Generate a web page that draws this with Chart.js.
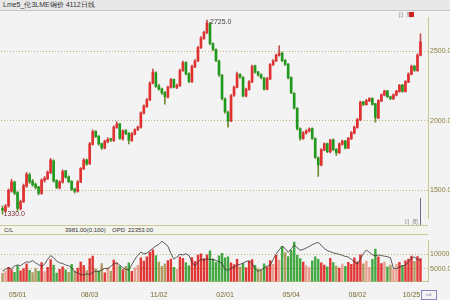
<!DOCTYPE html>
<html lang="zh">
<head>
<meta charset="UTF-8">
<title>Lme5 日线</title>
<script src="https://cdn.jsdelivr.net/npm/chart.js"></script>
<style>
    body { margin: 0; width: 450px; height: 300px; background: #f3f3f3; position: relative; overflow: hidden;
           font-family: "Liberation Sans", Arial, sans-serif; }
    .strip { position: absolute; left: 0; width: 450px; font-size: 7px; color: #333; }
    #title { top: 0; height: 10px; background: #e8e8e8; border-bottom: 1px solid #c4c4c4; line-height: 10px; }
    #title span { margin-left: 3px; }
    #volHead { top: 225px; height: 8px; border-top: 1px solid #c8c890; border-bottom: 1px solid #c8c890;
               width: 428px; background: #f4f4ee; line-height: 8px; font-size: 6px; }
    #volHead span { position: absolute; top: 0; }
    canvas { position: absolute; left: 0; }
    #priceCanvas { top: 11px; }
    #volCanvas { top: 234px; }
    .mark { position: absolute; }
</style>
</head>
<body>
<div id="title" class="strip"><span>Lme5_伦3LME铜价 4112日线</span></div>
<canvas id="priceCanvas" width="450" height="214"></canvas>
<div id="volHead" class="strip">
    <span style="left:4px">C/L</span>
    <span style="left:65px">3981.00(0.100)</span>
    <span style="left:112px">OPD</span>
    <span style="left:128px">22353.00</span>
</div>
<canvas id="volCanvas" width="450" height="66"></canvas>
<div class="mark" style="left:398px;top:11px;font-size:6px;color:#888">日 周</div>
<div class="mark" style="left:409px;top:12px;width:5px;height:5px;background:#d02020"></div>
<div class="mark" style="left:420px;top:198px;width:1px;height:27px;background:#6a6a90"></div>
<div class="mark" style="left:404px;top:218px;font-size:6px;color:#888">日 周</div>
<div class="mark" style="left:421px;top:290px;width:14px;height:8px;border:1px solid #8888c0;font-size:7px;line-height:8px;color:#6666a0;text-align:center">⇨</div>

<script>
const slotCount = 142;
const tickIndex = [5, 29, 52, 74, 96, 118, 136];
const tickText = ['05/01', '08/03', '11/02', '02/01', '05/04', '08/02', '10/25'];

const opens = [
    1372, 1352, 1388, 1495, 1560, 1485, 1368, 1420, 1530, 1612,
    1565, 1545, 1525, 1478, 1572, 1585, 1628, 1712, 1570, 1518,
    1560, 1640, 1598, 1565, 1510, 1492, 1560, 1655, 1720, 1690,
    1830, 1925, 1890, 1836, 1804, 1850, 1870, 1858, 1952, 1978,
    1870, 1932, 1910, 1858, 1905, 1938, 1952, 2055, 2102, 2150,
    2272, 2345, 2250, 2230, 2205, 2170, 2240, 2298, 2240, 2252,
    2360, 2420, 2340, 2280, 2388, 2430, 2525, 2592, 2632, 2700,
    2556, 2512, 2430, 2328, 2158, 2062, 2000, 2182, 2240, 2335,
    2312, 2178, 2226, 2280, 2395, 2352, 2332, 2308, 2226, 2300,
    2402, 2430, 2470, 2488, 2435, 2408, 2312, 2198, 2090, 1945,
    1872, 1912, 1926, 1945, 1872, 1735, 1682, 1790, 1836, 1776,
    1864, 1795, 1770, 1830, 1856, 1804, 1870, 1912, 1952, 2008,
    2136, 2116, 2144, 2162, 2122, 2020, 2142, 2184, 2216, 2172,
    2158, 2184, 2210, 2258, 2210, 2278, 2334, 2394, 2360, 2470
];
const highs = [
    1390, 1400, 1512, 1580, 1568, 1492, 1430, 1545, 1630, 1625,
    1580, 1552, 1530, 1584, 1600, 1640, 1730, 1720, 1578, 1570,
    1648, 1645, 1604, 1570, 1516, 1570, 1665, 1728, 1725, 1845,
    1935, 1930, 1895, 1840, 1862, 1880, 1876, 1965, 1995, 1982,
    1935, 1938, 1915, 1915, 1942, 1962, 2065, 2115, 2160, 2280,
    2372, 2352, 2262, 2236, 2210, 2250, 2305, 2302, 2265, 2372,
    2430, 2425, 2345, 2400, 2440, 2535, 2605, 2645, 2725, 2708,
    2560, 2518, 2436, 2334, 2165, 2070, 2190, 2250, 2350, 2340,
    2318, 2235, 2290, 2400, 2400, 2356, 2338, 2312, 2312, 2412,
    2440, 2480, 2540, 2494, 2440, 2412, 2316, 2204, 2096, 1950,
    1922, 1936, 1950, 1950, 1878, 1742, 1800, 1842, 1840, 1868,
    1870, 1800, 1842, 1862, 1860, 1882, 1922, 1962, 2018, 2142,
    2140, 2155, 2168, 2166, 2126, 2152, 2195, 2222, 2220, 2178,
    2194, 2220, 2262, 2262, 2290, 2345, 2400, 2398, 2482, 2625
];
const lows = [
    1330, 1345, 1380, 1488, 1470, 1350, 1360, 1412, 1522, 1550,
    1528, 1510, 1468, 1472, 1560, 1578, 1620, 1560, 1512, 1510,
    1552, 1588, 1555, 1500, 1480, 1488, 1555, 1650, 1680, 1686,
    1825, 1880, 1826, 1795, 1798, 1842, 1850, 1852, 1945, 1866,
    1862, 1900, 1835, 1852, 1898, 1930, 1948, 2050, 2096, 2145,
    2265, 2240, 2220, 2190, 2120, 2165, 2235, 2236, 2232, 2248,
    2355, 2330, 2275, 2276, 2382, 2425, 2520, 2586, 2628, 2545,
    2505, 2425, 2320, 2150, 2055, 1955, 1995, 2175, 2236, 2305,
    2172, 2172, 2220, 2275, 2342, 2322, 2302, 2220, 2222, 2296,
    2398, 2425, 2465, 2425, 2398, 2302, 2195, 2085, 1935, 1860,
    1866, 1905, 1920, 1866, 1730, 1600, 1676, 1785, 1772, 1770,
    1786, 1752, 1766, 1825, 1798, 1800, 1866, 1906, 1948, 2002,
    2110, 2112, 2138, 2112, 1990, 2016, 2138, 2180, 2166, 2152,
    2154, 2180, 2206, 2205, 2206, 2274, 2330, 2355, 2356, 2466
];
const closes = [
    1358, 1385, 1500, 1562, 1480, 1371, 1419, 1534, 1616, 1562,
    1541, 1521, 1480, 1575, 1589, 1630, 1718, 1568, 1521, 1562,
    1636, 1596, 1562, 1507, 1494, 1562, 1657, 1718, 1691, 1834,
    1922, 1888, 1834, 1806, 1854, 1868, 1861, 1956, 1976, 1874,
    1929, 1908, 1861, 1908, 1936, 1956, 2058, 2106, 2153, 2269,
    2350, 2248, 2228, 2201, 2174, 2242, 2296, 2242, 2255, 2364,
    2418, 2337, 2282, 2391, 2432, 2527, 2595, 2636, 2704, 2554,
    2514, 2432, 2330, 2160, 2065, 1997, 2180, 2242, 2337, 2316,
    2180, 2228, 2282, 2391, 2350, 2330, 2310, 2228, 2303, 2405,
    2432, 2473, 2486, 2432, 2405, 2310, 2201, 2092, 1942, 1874,
    1915, 1929, 1942, 1874, 1738, 1684, 1793, 1834, 1779, 1861,
    1793, 1772, 1834, 1854, 1806, 1874, 1915, 1956, 2010, 2133,
    2119, 2146, 2160, 2119, 2024, 2146, 2187, 2214, 2174, 2160,
    2187, 2214, 2255, 2214, 2282, 2337, 2391, 2364, 2473, 2568
];
const volumes = [
    3500, 4200, 5600, 4800, 3900, 6100, 4400, 5200, 6800, 4600,
    3800, 5200, 4300, 7200, 4100, 5600, 8200, 6400, 3600, 4900,
    5800, 4700, 3900, 6600, 4200, 5300, 7400, 6200, 4500, 8600,
    9400, 5100, 4400, 6900, 3700, 5500, 4300, 8100, 7300, 6000,
    4800, 5900, 7100, 4200, 5400, 6300, 8800, 7700, 9200, 10800,
    11600, 9600, 7400, 5900, 6800, 7900, 8400, 5600, 4900, 9100,
    8700, 7200, 6100, 8900, 7600, 9800, 10200, 8600, 9900, 11200,
    8400, 7300, 9500, 10400, 8800, 9200, 7100, 6500, 8300, 5800,
    6900, 5400, 7600, 8200, 6300, 5100, 4700, 6800, 5600, 7900,
    6600, 9700, 8100, 12800, 10600, 9300, 11400, 14200, 9800, 8600,
    7400, 6100, 5500, 7800, 9200, 8300, 7100, 6400, 5800, 8700,
    7200, 6000, 5300, 6700, 5900, 7300, 6600, 8800, 7500, 9900,
    6800, 7700, 5600, 8300, 11800, 9200, 6900, 7400, 5800, 6400,
    5100, 6700, 7300, 6200, 7800, 8400, 9400, 7600, 9300, 8600
];
const openInterest = [
    4200, 4800, 5300, 5000, 5900, 6300, 6000, 6800, 7400, 7200,
    7800, 7000, 6400, 5800, 6500, 8200, 9500, 8800, 7600, 7000,
    6800, 6300, 6000, 5400, 4000, 3500, 3100, 2800, 3300, 3000,
    3700, 4200, 4000, 4600, 5100, 5000, 5800, 6600, 7000, 6200,
    5300, 4800, 4500, 6400, 8200, 9600, 10700, 10100, 10300, 11200,
    12000, 12800, 13300, 14400, 13600, 12700, 10200, 8300, 9000, 9900,
    9700, 10100, 9600, 7200, 5900, 7400, 8200, 7900, 8400, 8100,
    8300, 7800, 7400, 6900, 4800, 4400, 5200, 5600, 6200, 6500,
    6900, 7500, 7700, 6800, 5000, 4100, 4600, 5300, 5900, 6100,
    8200, 10000, 11400, 12700, 11900, 10600, 11800, 13100, 12200, 11300,
    11600, 12100, 12600, 13200, 13700, 14000, 13000, 11900, 11200, 10800,
    10400, 10200, 9900, 9600, 9200, 9000, 8200, 7400, 6600, 8200,
    10200, 11400, 10600, 9800, 9400, 9700, 9500, 9300, 9100, 8800,
    5200, 5000, 5600, 6000, 6200, 7400, 8600, 9000, 8200, 7700
];

const labels = Array(slotCount).fill('');
tickIndex.forEach((idx, k) => { labels[idx] = tickText[k]; });

const isUp = closes.map((c, i) => c >= opens[i]);
const bodyColors = isUp.map(u => u ? '#e03030' : '#1f9a1f');
const wickColors = isUp.map(u => u ? '#c05050' : '#6f8a30');
const volColors = closes.map((c, i) => {
    const big = Math.abs(c - opens[i]) >= 40;
    if (isUp[i]) return big ? 'rgba(224,32,32,0.9)' : 'rgba(232,150,135,0.9)';
    return big ? 'rgba(48,160,48,0.9)' : 'rgba(168,144,80,0.9)';
});

const axisFont = { family: 'Liberation Sans, Arial, sans-serif', size: 7 };
const olive = '#8a8040';
const gridKhaki = '#bdb47a';

// high / low annotations on the price panel
const extremeLabels = {
    id: 'extremeLabels',
    afterDatasetsDraw(chart) {
        const ctx = chart.ctx;
        const x = chart.scales.x, y = chart.scales.y;
        const hiIdx = highs.indexOf(Math.max(...highs));
        const loIdx = lows.indexOf(Math.min(...lows));
        ctx.save();
        ctx.font = '7px Liberation Sans, Arial, sans-serif';
        ctx.fillStyle = '#404040';
        ctx.textAlign = 'left';
        ctx.textBaseline = 'middle';
        ctx.fillText(highs[hiIdx].toFixed(1), x.getPixelForValue(hiIdx) + 3, y.getPixelForValue(highs[hiIdx]) + 2);
        ctx.fillStyle = '#7a3030';
        ctx.textBaseline = 'bottom';
        ctx.fillText(lows[loIdx].toFixed(1), x.getPixelForValue(loIdx) + 1, y.getPixelForValue(lows[loIdx]) + 3);
        ctx.restore();
    }
};

new Chart(document.getElementById('priceCanvas'), {
    type: 'bar',
    data: {
        labels: labels,
        datasets: [
            {
                label: 'body',
                data: opens.map((o, i) => [o, closes[i]]),
                backgroundColor: bodyColors,
                barThickness: 2,
                grouped: false,
                borderWidth: 0
            },
            {
                label: 'wick',
                data: lows.map((l, i) => [l, highs[i]]),
                backgroundColor: wickColors,
                barThickness: 1,
                grouped: false,
                borderWidth: 0
            }
        ]
    },
    options: {
        responsive: false,
        animation: false,
        devicePixelRatio: 1,
        layout: { padding: { left: 1, top: 1, right: 0, bottom: 0 } },
        plugins: { legend: { display: false }, tooltip: { enabled: false } },
        scales: {
            x: { display: false },
            y: {
                position: 'right',
                min: 1296,
                max: 2745,
                afterBuildTicks: s => { s.ticks = [1500, 2000, 2500].map(v => ({ value: v })); },
                afterFit: s => { s.width = 22; },
                ticks: { font: axisFont, color: olive, padding: 2, callback: v => v.toFixed(1) },
                grid: { color: gridKhaki, drawTicks: false },
                border: { display: true, color: '#c8c890', dash: [1, 2] }
            }
        }
    },
    plugins: [extremeLabels]
});

new Chart(document.getElementById('volCanvas'), {
    type: 'bar',
    data: {
        labels: labels,
        datasets: [
            {
                type: 'line',
                label: 'OI',
                data: openInterest,
                borderColor: '#333333',
                borderWidth: 0.8,
                pointRadius: 0,
                tension: 0
            },
            {
                label: 'Vol',
                data: volumes,
                backgroundColor: volColors,
                barPercentage: 0.8,
                categoryPercentage: 1,
                borderWidth: 0
            }
        ]
    },
    options: {
        responsive: false,
        animation: false,
        devicePixelRatio: 1,
        layout: { padding: { left: 1, top: 0, right: 0, bottom: 0 } },
        plugins: { legend: { display: false }, tooltip: { enabled: false } },
        scales: {
            x: {
                ticks: { font: axisFont, color: '#7a6a30', autoSkip: false, maxRotation: 0, padding: 1 },
                grid: { display: false },
                border: { display: true, color: '#c8c890' }
            },
            y: {
                position: 'right',
                min: 600,
                max: 14750,
                afterBuildTicks: s => { s.ticks = [5000, 10000].map(v => ({ value: v })); },
                afterFit: s => { s.width = 22; },
                ticks: { font: axisFont, color: olive, padding: 2, callback: v => v.toFixed(1) },
                grid: { color: gridKhaki, drawTicks: false },
                border: { display: true, color: '#c8c890', dash: [1, 2] }
            }
        }
    }
});
</script>
</body>
</html>
